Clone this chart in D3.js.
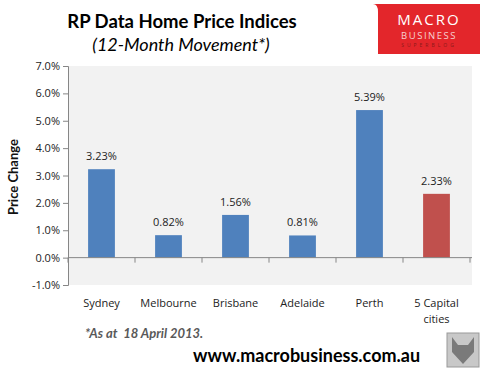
<!DOCTYPE html>
<html>
<head>
<script src="https://cdn.jsdelivr.net/npm/d3@7"></script>
<style>
  body { margin: 0; background: #fff; }
  text { font-family: "Open Sans", sans-serif; }
  .big { font-family: Lato, sans-serif; }
</style>
</head>
<body>
<div id="viz"></div>
<script>
// Data
var cities = ["Sydney", "Melbourne", "Brisbane", "Adelaide", "Perth", "5 Capital cities"];
var changes = [3.23, 0.82, 1.56, 0.81, 5.39, 2.33];
var barColors = ["#4f81bd", "#4f81bd", "#4f81bd", "#4f81bd", "#4f81bd", "#c0504d"];
var yTicks = [-1, 0, 1, 2, 3, 4, 5, 6, 7];

var width = 491, height = 379;
var plot = {left: 68, right: 470, top: 66, bottom: 285};

var svg = d3.select("#viz").append("svg")
    .attr("width", width)
    .attr("height", height);

var x = d3.scaleBand()
    .domain(cities)
    .range([plot.left, plot.right])
    .paddingInner(0.6)
    .paddingOuter(0.3);

var y = d3.scaleLinear()
    .domain([-1, 7])
    .range([plot.bottom, plot.top]);

//Plot background
svg.append("rect")
    .attr("x", plot.left)
    .attr("y", plot.top)
    .attr("width", 404)
    .attr("height", plot.bottom - plot.top)
    .attr("fill", "#f2f2f2");

//Bars
svg.selectAll(".bar")
    .data(changes)
    .enter().append("rect")
    .attr("class", "bar")
    .attr("x", function(d, i) { return x(cities[i]); })
    .attr("width", x.bandwidth())
    .attr("y", function(d) { return y(Math.max(d, 0)); })
    .attr("height", function(d) { return Math.abs(y(d) - y(0)); })
    .attr("fill", function(d, i) { return barColors[i]; });

//Value labels
svg.selectAll(".val")
    .data(changes)
    .enter().append("text")
    .attr("x", function(d, i) { return x(cities[i]) + x.bandwidth() / 2; })
    .attr("y", function(d) { return y(d) - 9; })
    .attr("text-anchor", "middle")
    .attr("font-size", "11px")
    .attr("fill", "#222")
    .text(function(d) { return d.toFixed(2) + "%"; });

//Y axis
var yAxis = d3.axisLeft(y)
    .tickValues(yTicks)
    .tickSize(5)
    .tickFormat(function(d) { return d.toFixed(1) + "%"; });
var gy = svg.append("g")
    .attr("transform", "translate(" + plot.left + ",0)")
    .call(yAxis);
gy.select(".domain").attr("stroke", "#868686");
gy.selectAll(".tick line").attr("stroke", "#868686");
gy.selectAll(".tick text")
    .attr("font-size", "11px")
    .attr("font-family", "'Open Sans', sans-serif")
    .attr("fill", "#222")
    .attr("x", -8);

//Zero line with category ticks
svg.append("line")
    .attr("x1", plot.left).attr("x2", plot.right + 2)
    .attr("y1", y(0)).attr("y2", y(0))
    .attr("stroke", "#868686");
svg.selectAll(".ctick")
    .data(d3.range(cities.length + 1))
    .enter().append("line")
    .attr("x1", function(i) { return plot.left + i * (plot.right - plot.left) / cities.length; })
    .attr("x2", function(i) { return plot.left + i * (plot.right - plot.left) / cities.length; })
    .attr("y1", y(0)).attr("y2", y(0) + 5)
    .attr("stroke", "#868686");

//Category labels
svg.selectAll(".cat")
    .data(cities)
    .enter().append("text")
    .attr("x", function(d) { return x(d) + x.bandwidth() / 2; })
    .attr("y", 307)
    .attr("text-anchor", "middle")
    .attr("font-size", "11px")
    .attr("fill", "#222")
    .each(function(d) {
        var t = d3.select(this);
        if (d == "5 Capital cities") {
            t.append("tspan").attr("x", t.attr("x")).text("5 Capital");
            t.append("tspan").attr("x", t.attr("x")).attr("dy", 16).text("cities");
        } else {
            t.text(d);
        }
    });

//Axis title
svg.append("text")
    .attr("class", "big")
    .attr("transform", "translate(18,177) rotate(-90)")
    .attr("text-anchor", "middle")
    .attr("font-size", "13px")
    .attr("font-weight", "bold")
    .attr("fill", "#111")
    .text("Price Change");

//Titles
svg.append("text")
    .attr("class", "big")
    .attr("x", 182).attr("y", 28)
    .attr("text-anchor", "middle")
    .attr("font-size", "18.5px")
    .attr("font-weight", "bold")
    .attr("fill", "#000")
    .text("RP Data Home Price Indices");
svg.append("text")
    .attr("class", "big")
    .attr("x", 181).attr("y", 51)
    .attr("text-anchor", "middle")
    .attr("font-size", "18px")
    .attr("font-style", "italic")
    .attr("fill", "#000")
    .text("(12-Month Movement*)");

//Footnote and site
svg.append("text")
    .attr("class", "big")
    .attr("x", 85).attr("y", 338)
    .attr("font-size", "13px")
    .attr("font-weight", "bold")
    .attr("font-style", "italic")
    .attr("fill", "#595959")
    .style("white-space", "pre")
    .text("*As at  18 April 2013.");
svg.append("text")
    .attr("class", "big")
    .attr("x", 193).attr("y", 362)
    .attr("font-size", "18px")
    .attr("font-weight", "bold")
    .attr("fill", "#000")
    .text("www.macrobusiness.com.au");

//Logo
var logo = svg.append("g");
logo.append("path")
    .attr("d", "M380,4 H480 V54 H378 V12 Q378,4 373,4 Z")
    .attr("fill", "#e3262b");
logo.append("text")
    .attr("x", 429).attr("y", 25)
    .attr("text-anchor", "middle")
    .attr("font-size", "15px")
    .attr("letter-spacing", "2px")
    .attr("fill", "#fff")
    .text("MACRO");
logo.append("text")
    .attr("x", 429).attr("y", 39)
    .attr("text-anchor", "middle")
    .attr("font-size", "9.5px")
    .attr("letter-spacing", "1.5px")
    .attr("fill", "#f6d0d0")
    .text("BUSINESS");
logo.append("text")
    .attr("x", 429).attr("y", 47)
    .attr("text-anchor", "middle")
    .attr("font-size", "5px")
    .attr("letter-spacing", "3px")
    .attr("fill", "#8b1a1a")
    .text("SUPERBLOG");

//Wolf badge
svg.append("rect")
    .attr("x", 447).attr("y", 333)
    .attr("width", 32).attr("height", 34)
    .attr("fill", "#c8c8c8")
    .attr("stroke", "#999");
svg.append("path")
    .attr("d", "M452,337 L458,345 H468 L474,337 L474,352 L463,364 L452,352 Z")
    .attr("fill", "#7a7a7a");
</script>
</body>
</html>
